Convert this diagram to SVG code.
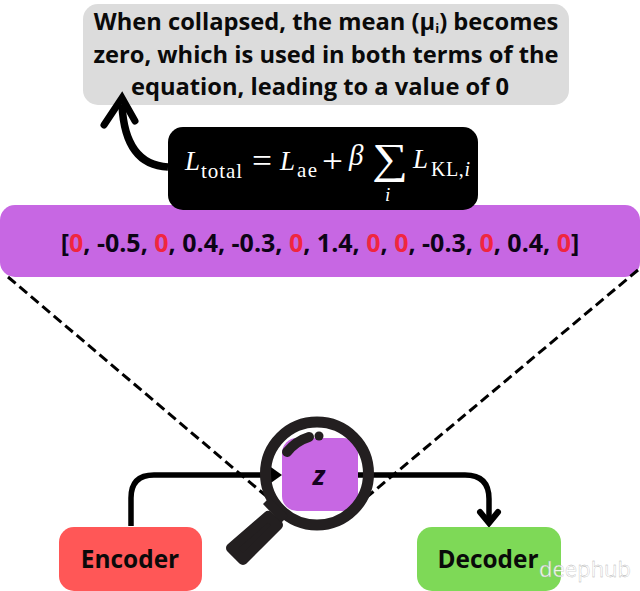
<svg xmlns="http://www.w3.org/2000/svg" width="640" height="591" viewBox="0 0 640 591">
<style>
.h{font-family:"Open Sans","Liberation Sans",sans-serif;font-weight:700;font-size:23.7px;fill:#0a0a0a;text-anchor:middle}
.n{font-family:"Open Sans","Liberation Sans",sans-serif;font-weight:700;font-size:24.4px;fill:#0a0a0a;text-anchor:middle}
.v{font-family:"Open Sans","Liberation Sans",sans-serif;font-weight:700;font-size:25px;fill:#0d0416;text-anchor:middle}
.v .r{fill:#f0263f}
.m{font-family:"Liberation Serif","DejaVu Serif",serif;fill:#fff}
.i{font-style:italic}
.line{fill:none;stroke:#000;stroke-width:5.5}
.dash{fill:none;stroke:#000;stroke-width:3;stroke-dasharray:10 5}
.lens{fill:none;stroke:#231f20}
</style>
<rect width="640" height="591" fill="#fff"/>
<g id="note">
<rect x="83" y="4" width="486" height="101" rx="15" fill="#dcdcdc"/>
<text class="h" x="326" y="30">When collapsed, the mean (μ<tspan font-size="13" dy="3">i</tspan><tspan dy="-3">) becomes</tspan></text>
<text class="h" x="326" y="63">zero, which is used in both terms of the</text>
<text class="h" x="320" y="95">equation, leading to a value of 0</text>
</g>
<g id="vector">
<rect x="0" y="205" width="640" height="72" rx="15" fill="#c767e3"/>
<text class="v" x="320" y="252">[<tspan class="r">0</tspan>, -0.5, <tspan class="r">0</tspan>, 0.4, -0.3, <tspan class="r">0</tspan>, 1.4, <tspan class="r">0</tspan>, <tspan class="r">0</tspan>, -0.3, <tspan class="r">0</tspan>, 0.4, <tspan class="r">0</tspan>]</text>
</g>
<g id="equation">
<rect x="168" y="127" width="310" height="83" rx="15" fill="#000"/>
<text class="m i" x="185" y="170" font-size="27">L</text>
<text class="m" x="201" y="178" font-size="21" textLength="41">total</text>
<text class="m" x="252" y="172" font-size="33" textLength="20" lengthAdjust="spacingAndGlyphs">=</text>
<text class="m i" x="280" y="170" font-size="27">L</text>
<text class="m" x="297" y="177" font-size="21" textLength="20">ae</text>
<text class="m" x="322" y="172" font-size="33" textLength="21" lengthAdjust="spacingAndGlyphs">+</text>
<text class="m i" x="349" y="165" font-size="29">β</text>
<text class="m" x="372" y="173" font-size="43" textLength="36" lengthAdjust="spacingAndGlyphs">∑</text>
<text class="m i" x="385" y="201" font-size="19">i</text>
<text class="m i" x="413" y="168" font-size="27">L</text>
<text class="m" x="431" y="176" font-size="20" textLength="39">KL,<tspan class="i">i</tspan></text>
</g>
<g id="connectors">
<path class="dash" d="M8 277L272 501"/>
<path class="dash" d="M638 270L355 507"/>
<path class="line" d="M131 526V498Q131 475 154 475H272"/>
<path d="M268 465L282 475L268 485Z" fill="#000"/>
<path class="line" d="M358 475H465Q489 475 489 499V522"/>
<path d="M480 512L489 523L498 512" fill="none" stroke="#000" stroke-width="6" stroke-linecap="round"/>
<path d="M168 167Q125 165 122 105" fill="none" stroke="#000" stroke-width="7.5"/>
<path d="M104 125L122 98L135 121" fill="none" stroke="#000" stroke-width="7" stroke-linecap="round"/>
</g>
<g id="z">
<rect x="282" y="438" width="76" height="73" rx="15" fill="#c767e3"/>
<text x="319" y="485" font-family="Open Sans, Liberation Sans, sans-serif" font-weight="700" font-style="italic" font-size="27" fill="#150321" text-anchor="middle">z</text>
</g>
<g id="magnifier">
<circle class="lens" cx="317" cy="473.5" r="51.5" stroke-width="11"/>
<path class="lens" d="M287 452Q296 441 309 437" stroke-width="10" stroke-linecap="round"/>
<circle cx="319" cy="436" r="4.5" fill="#231f20"/>
<path d="M268 516L278 525L243 560L231 548Z" fill="#231f20" stroke="#231f20" stroke-width="10" stroke-linejoin="round"/>
<path d="M263 504L270 497L288 516L281 523Z" fill="#231f20"/>
</g>
<g id="encoder">
<rect x="59" y="527" width="143" height="64" rx="15" fill="#ff5757"/>
<text class="n" x="130" y="568">Encoder</text>
</g>
<g id="decoder">
<rect x="417" y="527" width="144" height="64" rx="15" fill="#7ed957"/>
<text class="n" x="488" y="568">Decoder</text>
</g>
<text x="539" y="577" font-family="Open Sans, Liberation Sans, sans-serif" font-size="22" fill="#fff" fill-opacity="0.85" stroke="#aaa" stroke-width="0.3">deephub</text>
</svg>
